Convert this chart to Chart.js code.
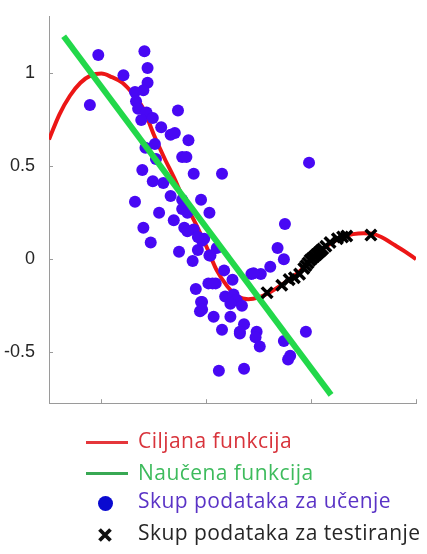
<!DOCTYPE html>
<html>
<head>
<meta charset="utf-8">
<script src="https://cdn.jsdelivr.net/npm/chart.js@4/dist/chart.umd.min.js"></script>
<style>
  html, body { margin: 0; padding: 0; background: #fff; }
  #wrap { position: relative; width: 427px; height: 554px; overflow: hidden; }
  #plot { position: absolute; left: 0; top: 0; width: 427px; height: 420px; }
  #legend { position: absolute; left: 0; top: 0; width: 427px; height: 554px; pointer-events: none; }
  .mk { position: absolute; }
  .txt { position: absolute; left: 138px; height: 30px; line-height: 30px; font-family: "Open Sans", "Noto Sans", sans-serif; font-size: 21px; letter-spacing: 0.45px; white-space: nowrap; }
</style>
</head>
<body>
<div id="wrap">
  <div id="plot"><canvas id="c"></canvas></div>
  <div id="legend"></div>
</div>
<script>
// ---- data ----
const seriesNames = ['Ciljana funkcija', 'Naučena funkcija', 'Skup podataka za učenje', 'Skup podataka za testiranje'];

const targetX = [0.5, 0.6, 0.7, 0.8, 0.9, 1.0, 1.1, 1.2, 1.3, 1.4, 1.5, 1.6, 1.7, 1.8, 1.9, 2.0, 2.1, 2.2, 2.3, 2.4, 2.5, 2.6, 2.7, 2.8, 2.9, 3.0, 3.1, 3.2, 3.3, 3.4, 3.5, 3.6, 3.7, 3.8, 3.9, 4.0];
const targetY = [0.645, 0.78, 0.88, 0.95, 0.99, 1.0, 0.98, 0.95, 0.89, 0.81, 0.67, 0.545, 0.43, 0.30, 0.19, 0.07, -0.06, -0.145, -0.20, -0.215, -0.205, -0.18, -0.145, -0.105, -0.06, 0.0, 0.05, 0.09, 0.12, 0.135, 0.14, 0.135, 0.11, 0.075, 0.04, 0.0];

const learnedX = [0.64, 3.19];
const learnedY = [1.20, -0.73];

const trainX = [0.97, 0.89, 1.21, 1.41, 1.44, 1.44, 1.40, 1.32, 1.33, 1.35, 1.43, 1.73, 1.38, 1.49, 1.57, 1.66, 1.70, 1.83, 1.42, 1.51,
  1.39, 1.52, 1.77, 1.81, 1.88, 2.15, 1.49, 1.59, 1.32, 1.66, 1.77, 1.95, 1.55, 1.77, 2.03, 1.40, 1.69, 1.79, 1.88, 1.47,
  1.98, 1.74, 1.92, 2.04, 2.10, 1.87, 2.75, 2.68, 2.74, 2.61, 2.52, 2.43, 2.17, 2.25, 2.02, 2.09, 1.90, 2.18, 2.26, 2.29,
  1.95, 1.94, 2.23, 2.34, 2.07, 2.23, 2.36, 2.15, 2.32, 2.48, 2.47, 2.51, 2.74, 2.95, 2.80, 2.78, 2.12, 2.36, 2.98, 1.82,
  1.96, 2.03, 2.06, 1.96, 1.96, 2.32, 2.45, 1.82, 1.92];
const trainY = [1.10, 0.83, 0.99, 1.12, 1.03, 0.95, 0.91, 0.90, 0.85, 0.81, 0.79, 0.80, 0.75, 0.76, 0.71, 0.67, 0.68, 0.64, 0.60, 0.62,
  0.48, 0.54, 0.55, 0.55, 0.46, 0.46, 0.42, 0.41, 0.31, 0.34, 0.32, 0.32, 0.25, 0.27, 0.25, 0.17, 0.21, 0.17, 0.16, 0.09,
  0.11, 0.04, 0.05, 0.02, 0.06, -0.01, 0.19, 0.06, 0.00, -0.04, -0.08, -0.08, -0.06, -0.11, -0.13, -0.13, -0.16, -0.20, -0.19, -0.22,
  -0.23, -0.28, -0.24, -0.25, -0.31, -0.31, -0.35, -0.38, -0.40, -0.39, -0.42, -0.47, -0.44, -0.39, -0.52, -0.54, -0.60, -0.59, 0.52, 0.25,
  0.10, 0.02, -0.13, -0.23, -0.27, -0.39, -0.075, 0.15, 0.12];

const testX = [2.58, 2.72, 2.79, 2.84, 2.89, 2.93, 2.95, 2.97, 2.99, 3.01, 3.03, 3.05, 3.07, 3.09, 3.11, 3.14, 3.18, 3.25, 3.30, 3.34, 3.57];
const testY = [-0.18, -0.14, -0.11, -0.10, -0.08, -0.05, -0.035, -0.02, -0.005, 0.005, 0.015, 0.025, 0.035, 0.045, 0.055, 0.07, 0.09, 0.11, 0.12, 0.125, 0.13];

const xTickValues = [1, 2, 3, 4];
const yTickValues = [-0.5, 0, 0.5, 1];

// ---- styles ----
const RED = '#ec1616';
const GREEN = '#22d84a';
const BLUE = '#4808f4';
const AXIS = '#9a9a9a';
const legendTextColors = ['#d8333b', '#3dbb5c', '#5a33c6', '#262626'];
const legendMarkColors = ['#e5363b', '#38a853', '#0a0ad0', '#111111'];
const legendMarkY = [442.7, 473.3, 503.3, 535];
const legendBaseline = [448.3, 480, 508.3, 540];
const BASELINE_OFFSET = 23.2;

const pts = (xs, ys) => xs.map((x, i) => ({ x: x, y: ys[i] }));

const innerTicks = {
  id: 'innerTicks',
  afterDraw(chart) {
    const { ctx, chartArea: a, scales } = chart;
    ctx.save();
    ctx.strokeStyle = AXIS;
    ctx.lineWidth = 1;
    ctx.beginPath();
    scales.x.ticks.forEach(t => {
      const px = Math.round(scales.x.getPixelForValue(t.value)) + 0.5;
      ctx.moveTo(px, a.bottom);
      ctx.lineTo(px, a.bottom - 4);
    });
    scales.y.ticks.forEach(t => {
      const py = Math.round(scales.y.getPixelForValue(t.value)) + 0.5;
      ctx.moveTo(a.left, py);
      ctx.lineTo(a.left + 4, py);
    });
    ctx.stroke();
    ctx.restore();
  }
};

const chart = new Chart(document.getElementById('c'), {
  type: 'scatter',
  data: {
    datasets: [
      { label: seriesNames[0], data: pts(targetX, targetY), type: 'line', showLine: true, borderColor: RED, backgroundColor: RED,
        borderWidth: 4, pointRadius: 0, cubicInterpolationMode: 'monotone', order: 3, legendKind: 'line' },
      { label: seriesNames[1], data: pts(learnedX, learnedY), type: 'line', showLine: true, borderColor: GREEN, backgroundColor: GREEN,
        borderWidth: 6, pointRadius: 0, borderCapStyle: 'butt', order: 1, legendKind: 'line' },
      { label: seriesNames[2], data: pts(trainX, trainY), backgroundColor: BLUE, borderColor: BLUE, borderWidth: 0,
        pointRadius: 6, pointStyle: 'circle', order: 2, legendKind: 'dot' },
      { label: seriesNames[3], data: pts(testX, testY), backgroundColor: '#000', borderColor: '#000', borderWidth: 3.5,
        pointRadius: 7.5, pointStyle: 'crossRot', order: 0, legendKind: 'cross' }
    ]
  },
  options: {
    responsive: true,
    maintainAspectRatio: false,
    animation: false,
    layout: { padding: { top: 13, right: 5, bottom: 15, left: 0 } },
    plugins: { legend: { display: false }, tooltip: { enabled: false } },
    scales: {
      x: {
        type: 'linear', min: 0.5, max: 4,
        afterBuildTicks: s => { s.ticks = xTickValues.map(v => ({ value: v })); },
        afterFit: s => { s.height = 0; },
        ticks: { display: false },
        grid: { display: false },
        border: { display: true, color: AXIS, width: 1 }
      },
      y: {
        type: 'linear', min: -0.775, max: 1.305,
        afterBuildTicks: s => { s.ticks = yTickValues.map(v => ({ value: v })); },
        afterFit: s => { s.width = 49; },
        ticks: { color: '#262626', padding: 6, font: { family: '"Liberation Sans", Arial, sans-serif', size: 18 },
          callback: v => String(v) },
        grid: { display: false },
        border: { display: true, color: AXIS, width: 1 }
      }
    }
  },
  plugins: [innerTicks]
});

// ---- HTML legend built from the chart's datasets ----
(function buildLegend() {
  const box = document.getElementById('legend');
  chart.data.datasets.forEach((ds, i) => {
    const my = legendMarkY[i];
    const mk = document.createElement('div');
    mk.className = 'mk';
    if (ds.legendKind === 'line') {
      Object.assign(mk.style, { left: '86px', top: (my - 1.5) + 'px', width: '42px', height: '3px', background: legendMarkColors[i] });
    } else if (ds.legendKind === 'dot') {
      Object.assign(mk.style, { left: '97.5px', top: (my - 7.5) + 'px', width: '15px', height: '15px', borderRadius: '50%', background: legendMarkColors[i] });
    } else {
      mk.innerHTML = '<svg width="14" height="14" viewBox="0 0 14 14"><path d="M1.5 1.5 L12.5 12.5 M12.5 1.5 L1.5 12.5" stroke="' + legendMarkColors[i] + '" stroke-width="3.8" stroke-linecap="butt"/></svg>';
      Object.assign(mk.style, { left: '98px', top: (my - 7) + 'px', width: '14px', height: '14px' });
    }
    const tx = document.createElement('div');
    tx.className = 'txt';
    tx.style.top = (legendBaseline[i] - BASELINE_OFFSET) + 'px';
    tx.style.color = legendTextColors[i];
    tx.textContent = ds.label;
    box.appendChild(mk);
    box.appendChild(tx);
  });
})();
</script>
</body>
</html>
